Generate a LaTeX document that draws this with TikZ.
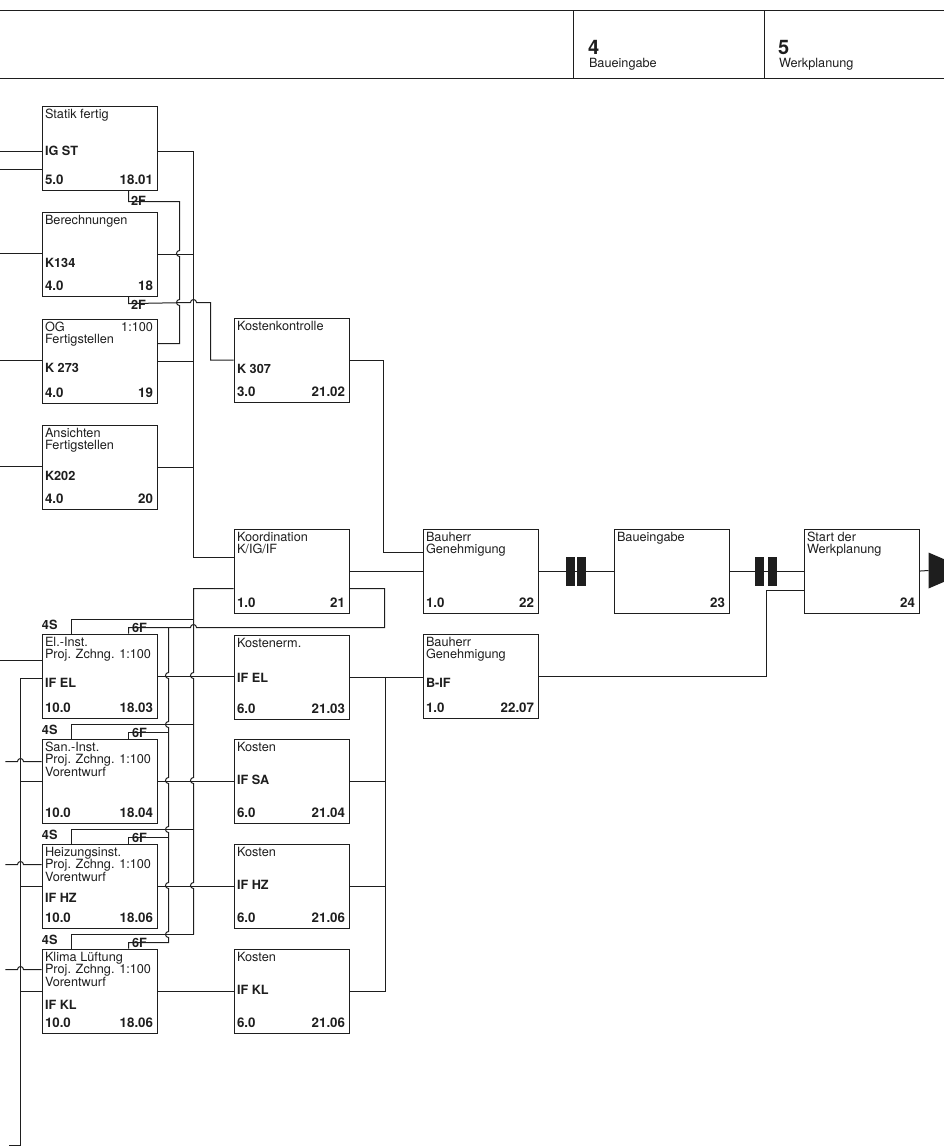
\documentclass[tikz,border=0pt]{standalone}
\usepackage{fontspec}
\setmainfont{TeX Gyre Heros}
\usepackage{tikz}
\definecolor{ink}{RGB}{30, 30, 30}

\begin{document}
\begin{tikzpicture}[x=1pt, y=-1pt, line width=1pt, draw=ink, color=ink,
    every node/.style={inner sep=0pt},
    task/.style={draw, line width=1.1pt, minimum width=115pt, minimum height=84pt, anchor=north west},
    ttl/.style={anchor=north west, align=left, font=\fontsize{12.7}{12.5}\selectfont},
    cod/.style={anchor=base west, font=\fontsize{12.7}{14}\selectfont\bfseries},
    num/.style={font=\fontsize{13.3}{14}\selectfont\bfseries},
    lag/.style={anchor=base west, font=\fontsize{12.7}{14}\selectfont\bfseries}]
  \useasboundingbox (-0.5,-0.5) rectangle (943.5,1147.5);

  % phase header
  \draw (0,10) -- (944,10);
  \draw (0,78) -- (944,78);
  \draw (573,10) -- (573,78);
  \draw (764,10) -- (764,78);
  \node[anchor=base west, font=\fontsize{20}{20}\selectfont\bfseries] (ph4) at (587,54) {4};
  \node[anchor=base west, font=\fontsize{12.7}{13}\selectfont] (ph4t) at (588,67) {Baueingabe};
  \node[anchor=base west, font=\fontsize{20}{20}\selectfont\bfseries] (ph5) at (777,54) {5};
  \node[anchor=base west, font=\fontsize{12.7}{13}\selectfont] (ph5t) at (778,67) {Werkplanung};

  % activity boxes: name/x/y/title/code/code offset/duration/number
  \foreach \nm/\xx/\yy/\ttl/\cod/\cdy/\dur/\num in {
      stat/41/105/{Statik fertig}/{IG ST}/50/5.0/18.01,
      ber/41/211/Berechnungen/K134/56/4.0/18,
      og/41/318/{OG\\Fertigstellen}/{K 273}/54/4.0/19,
      ans/41/424/{Ansichten\\Fertigstellen}/K202/56/4.0/20,
      el/41/633/{El.-Inst.\\Proj. Zchng. 1:100}/{IF EL}/54/10.0/18.03,
      sa/41/738/{San.-Inst.\\Proj. Zchng. 1:100\\Vorentwurf}/{}/0/10.0/18.04,
      hz/41/843/{Heizungsinst.\\Proj. Zchng. 1:100\\Vorentwurf}/{IF HZ}/59/10.0/18.06,
      kl/41/948/{Klima Lüftung\\Proj. Zchng. 1:100\\Vorentwurf}/{IF KL}/61/10.0/18.06,
      kk/233/317/Kostenkontrolle/{K 307}/56/3.0/21.02,
      koo/233/528/{Koordination\\K/IG/IF}/{}/0/1.0/21,
      kel/233/634/Kostenerm./{IF EL}/48/6.0/21.03,
      ksa/233/738/Kosten/{IF SA}/46/6.0/21.04,
      khz/233/843/Kosten/{IF HZ}/46/6.0/21.06,
      kkl/233/948/Kosten/{IF KL}/46/6.0/21.06,
      bh/422/528/{Bauherr\\Genehmigung}/{}/0/1.0/22,
      bif/422/633/{Bauherr\\Genehmigung}/B-IF/54/1.0/22.07,
      be/613/528/Baueingabe/{}/0/{}/23,
      st/803/528/{Start der\\Werkplanung}/{}/0/{}/24}{
    \node[task] (\nm) at (\xx,\yy) {};
    \node[ttl] (\nm-t) at (\xx+3,\yy+3) {\ttl};
    \node[cod] (\nm-c) at (\xx+3,\yy+\cdy) {\cod};
    \node[num, anchor=base west] (\nm-d) at (\xx+3,\yy+79) {\dur};
    \node[num, anchor=base east] (\nm-n) at (\xx+112,\yy+79) {\num};
  }
  \node[ttl, anchor=north east] (og-s) at (153,321) {1:100};

  % lag labels
  \node[lag] (lag1) at (130,205) {2F};
  \node[lag] (lag2) at (130,309) {2F};
  \foreach \nm/\yy in {el/633, sa/738, hz/843, kl/948}{
    \node[lag] (\nm-s) at (41,\yy-4) {4S};
    \node[lag] (\nm-f) at (131,\yy-1) {6F};
  }

  % inputs from the left
  \foreach \nm/\yy in {stat/151, stat/169, ber/253, og/360, ans/466, el/660}
    \draw (0,\yy) -- (\nm.west |- 0,\yy);
  \foreach \nm/\yy in {sa/761, hz/864, kl/969}
    \draw (5,\yy) -- (17,\yy) arc[start angle=180, end angle=0, radius=3pt] -- (\nm.west |- 0,\yy);
  \draw (el.west |- 0,678) -| (20,1145) -- (9,1145);
  \foreach \nm in {sa, hz, kl}
    \draw (\nm.west) -- (\nm.west -| 20,0);

  % upper group to Koordination
  \draw (stat.east |- 0,151) -| (193,557) -- (koo.west |- 0,557);
  \foreach \nm in {ber, og, ans}
    \draw (\nm.east) -- (\nm.east -| 193,0);
  \draw ([xshift=87pt]stat.south west) -- ++(0,11) -| (179,250)
    arc[start angle=90, end angle=270, radius=3pt] -- (179,299)
    arc[start angle=90, end angle=270, radius=3pt] -- (179,343) -- (og.east |- 0,343);
  \draw ([xshift=87pt]ber.south west) -- ++(0,7) -- (190,302)
    arc[start angle=180, end angle=0, radius=3pt] -- (210,302) |- (kk.west);
  \draw (kk.east) -| (383,552) -- (bh.west |- 0,552);
  \draw (koo.east) -- (bh.west);

  % Koordination loop and 6F / 4S links
  \draw (koo.east |- 0,588) -| (384,627) -- (196,627)
    arc[start angle=0, end angle=180, radius=3pt] -| ([xshift=87pt]el.north west);
  \draw (168,627) -- (168,672)
    arc[start angle=90, end angle=270, radius=3pt] -- (168,721)
    arc[start angle=90, end angle=270, radius=3pt] -- (168,777)
    arc[start angle=90, end angle=270, radius=3pt] -- (168,826)
    arc[start angle=90, end angle=270, radius=3pt] -- (168,882)
    arc[start angle=90, end angle=270, radius=3pt] -- (168,931)
    arc[start angle=90, end angle=270, radius=3pt] -- (168,942) -| ([xshift=87pt]kl.north west);
  \foreach \nm/\yy in {sa/732, hz/837}
    \draw ([xshift=87pt]\nm.north west) |- (168,\yy);
  \draw (koo.west |- 0,588) -- (193,588) -- (193,672)
    arc[start angle=90, end angle=270, radius=3pt] -- (193,777)
    arc[start angle=90, end angle=270, radius=3pt] -- (193,882)
    arc[start angle=90, end angle=270, radius=3pt] -- (193,934);
  \foreach \nm/\yy in {el/619, sa/724, hz/829, kl/934}
    \draw ([xshift=30pt]\nm.north west) |- (193,\yy);

  % installations to costs
  \foreach \a/\b in {el/kel, sa/ksa, hz/khz, kl/kkl}
    \draw (\a.east) -- (\a.east -| \b.west);
  \draw (kel.east) -- (kel.east -| bif.west);
  \draw (kkl.east) -| (385,676);
  \foreach \nm in {ksa, khz}
    \draw (\nm.east) -- (\nm.east -| 385,0);

  % approval, submission, start
  \draw (bh.east) -- (be.west);
  \draw (be.east) -- (st.west);
  \foreach \bx in {565, 576, 754, 767}
    \fill (\bx,556) rectangle ++(9,29);
  \draw (bif.east) -| (766,590) -- (st.west |- 0,590);
  \draw (st.east) -- (928,570);
  \fill (928,552) -- (970,570) -- (928,588) -- cycle;
\end{tikzpicture}
\end{document}
